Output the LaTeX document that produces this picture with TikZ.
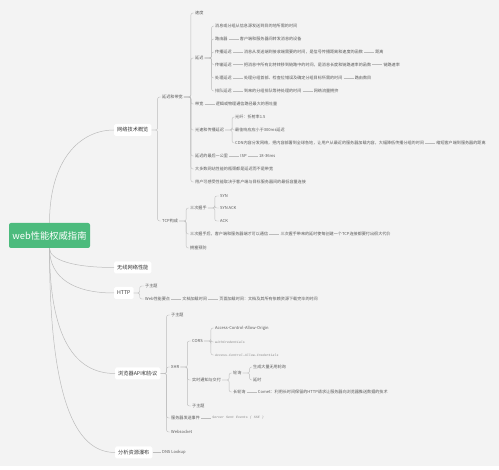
\documentclass[tikz,border=0pt]{standalone}
\usepackage{fontspec}
\setmainfont{Noto Sans CJK SC}
\newfontfamily\codefont{Liberation Mono}
\usetikzlibrary{positioning}
\definecolor{bggray}{RGB}{243,243,243}
\definecolor{rootgreen}{RGB}{76,187,125}
\definecolor{linegray}{RGB}{188,188,188}
\definecolor{txtdark}{RGB}{55,55,55}
\definecolor{txtleaf}{RGB}{90,90,90}
\definecolor{codegray}{RGB}{135,135,135}
\tikzset{
  root/.style  ={fill=rootgreen, text=white, rounded corners=2pt, font=\fontsize{9.3}{11}\selectfont,
                 minimum width=81pt, minimum height=25pt, inner sep=0pt},
  topic/.style ={fill=white, text=txtdark, rounded corners=1.5pt, font=\fontsize{5.2}{6}\selectfont,
                 inner xsep=3pt, inner ysep=0pt, minimum height=12pt, anchor=west},
  leaf/.style  ={text=txtleaf, font=\fontsize{4.1}{5}\selectfont, inner sep=1pt, anchor=west},
  code/.style  ={text=codegray, font=\codefont\itshape\fontsize{3.3}{4}\selectfont, inner sep=1pt, anchor=west},
  br/.style    ={draw=linegray, line width=0.4pt, rounded corners=2pt},
  ln/.style    ={draw=linegray, line width=0.4pt},
  cv/.style    ={draw=linegray, line width=0.5pt},
}

\begin{document}
\begin{tikzpicture}[x=1pt,y=-1pt,node distance=10pt]
\useasboundingbox (0,0) rectangle (499,470);
\fill[bggray] (0,0) rectangle (499,466);
\fill[white] (0,466) rectangle (499,470);

% main topics
\node[root] (root) at (49.5,235.5) {web性能权威指南};
\node[topic] (net) at (114,130) {网络技术概览};
\node[topic] (wireless) at (114,267.5) {无线网络性能};
\node[topic] (http) at (114,293) {HTTP};
\node[topic] (api) at (115,373.5) {浏览器API和协议};
\node[topic] (waterfall) at (115,452.5) {分析资源瀑布};

\draw[cv] (root.north) .. controls +(0,-63) and +(-34,0) .. (net.west);
\draw[cv] (root.south) .. controls +(0,12) and +(-40,0) .. (wireless.west);
\draw[cv] (root.south) .. controls +(0,30) and +(-40,0) .. (http.west);
\draw[cv] (root.south) .. controls +(0,90) and +(-40,0) .. (api.west);
\draw[cv] (root.south) .. controls +(0,150) and +(-40,0) .. (waterfall.west);

% network overview
\node[leaf] (dbw) at (161,97) {延迟和带宽};
\node[leaf] (tcp) at (161,221) {TCP构成};
\foreach \c in {dbw,tcp} \draw[br] (net.east) -- ++(6,0) |- (\c.west);

\node[leaf] (speed) at (194,13) {速度};
\node[leaf] (lat) at (194,58) {延迟};
\node[leaf] (bw) at (194,104) {带宽};
\node[leaf] (light) at (194,130) {光速和传播延迟};
\node[leaf] (mile) at (194,156) {延迟的最后一公里};
\node[leaf] (most) at (194,169) {大多数网站性能的瓶颈都是延迟而不是带宽};
\node[leaf] (user) at (194,182) {用户可感受性能取决于客户端与目标服务器间的最低容量连接};
\foreach \c in {speed,lat,bw,light,mile,most,user} \draw[br] (dbw.east) -- ++(7,0) |- (\c.west);

\node[leaf] (def) at (214,26) {消息或分组从信息源发送到目的地所需的时间};
\node[leaf] (router) at (214,39) {路由器};
\node[leaf,right=of router] (router2) {客户端和服务器间转发消息的设备};
\node[leaf] (prop) at (214,52) {传播延迟};
\node[leaf,right=of prop] (prop2) {消息从发送端到接收端需要的时间，是信号传播距离和速度的函数};
\node[leaf,right=of prop2] (prop3) {距离};
\node[leaf] (trans) at (214,64.5) {传输延迟};
\node[leaf,right=of trans] (trans2) {把消息中所有比特转移到链路中的时间，是消息长度和链路速率的函数};
\node[leaf,right=of trans2] (trans3) {链路速率};
\node[leaf] (proc) at (214,78) {处理延迟};
\node[leaf,right=of proc] (proc2) {处理分组首部、检查位错误及确定分组目标所需的时间};
\node[leaf,right=of proc2] (proc3) {路由数目};
\node[leaf] (queue) at (214,91) {排队延迟};
\node[leaf,right=of queue] (queue2) {到来的分组排队等待处理的时间};
\node[leaf,right=of queue2] (queue3) {网络流量拥挤};
\foreach \c in {def,router,prop,trans,proc,queue} \draw[br] (lat.east) -- ++(7,0) |- (\c.west);
\draw[ln] (router.east) -- (router2.west);
\draw[ln] (prop.east) -- (prop2.west);
\draw[ln] (prop2.east) -- (prop3.west);
\draw[ln] (trans.east) -- (trans2.west);
\draw[ln] (trans2.east) -- (trans3.west);
\draw[ln] (proc.east) -- (proc2.west);
\draw[ln] (proc2.east) -- (proc3.west);
\draw[ln] (queue.east) -- (queue2.west);
\draw[ln] (queue2.east) -- (queue3.west);

\node[leaf,right=of bw] (bw2) {逻辑或物理通信路径最大的吞吐量};
\draw[ln] (bw.east) -- (bw2.west);

\node[leaf] (fiber) at (234,117) {光纤：折射率1.5};
\node[leaf] (best) at (234,130) {最佳响应应小于300ms延迟};
\node[leaf] (cdn) at (234,143) {CDN内容分发网络，把内容部署到全球各地，让用户从最近的服务器加载内容，大幅降低传播分组的时间};
\node[leaf,right=of cdn] (cdn2) {缩短客户端到服务器的距离};
\foreach \c in {fiber,best,cdn} \draw[br] (light.east) -- ++(7,0) |- (\c.west);
\draw[ln] (cdn.east) -- (cdn2.west);

\node[leaf,right=of mile] (isp) {ISP};
\node[leaf,right=of isp] (ms) {18-36ms};
\draw[ln] (mile.east) -- (isp.west);
\draw[ln] (isp.east) -- (ms.west);

% tcp
\node[leaf] (hand) at (189,208) {三次握手};
\node[leaf] (after) at (189,234) {三次握手后，客户端和服务器端才可以通信};
\node[leaf,right=of after] (after2) {三次握手带来的延时使每创建一个TCP连接都要付出很大代价};
\node[leaf] (cong) at (189,248) {拥塞预防};
\foreach \c in {hand,after,cong} \draw[br] (tcp.east) -- ++(7,0) |- (\c.west);
\draw[ln] (after.east) -- (after2.west);

\node[leaf] (syn) at (219,196) {SYN};
\node[leaf] (synack) at (219,208) {SYN ACK};
\node[leaf] (ack) at (219,221) {ACK};
\foreach \c in {syn,synack,ack} \draw[br] (hand.east) -- ++(7,0) |- (\c.west);

% http
\node[leaf] (sub1) at (144,286) {子主题};
\node[leaf] (webkey) at (144,299) {Web性能要点};
\node[leaf,right=of webkey] (doc) {文档加载时间};
\node[leaf,right=of doc] (page) {页面加载时间：文档及其所有依赖资源下载完毕的时间};
\foreach \c in {sub1,webkey} \draw[br] (http.east) -- ++(6,0) |- (\c.west);
\draw[ln] (webkey.east) -- (doc.west);
\draw[ln] (doc.east) -- (page.west);

% browser api
\node[leaf] (sub2) at (170,315) {子主题};
\node[leaf] (xhr) at (170,367) {XHR};
\node[leaf] (sse) at (170,418) {服务器发送事件};
\node[code,right=of sse] (ssecode) {Server Sent Events ( SSE )};
\node[leaf] (ws) at (170,432) {Websocket};
\foreach \c in {sub2,xhr,sse,ws} \draw[br] (api.east) -- ++(6,0) |- (\c.west);
\draw[ln] (sse.east) -- (ssecode.west);

\node[leaf] (cors) at (191,341) {CORS};
\node[leaf] (rt) at (191,380) {实时通知与交付};
\node[leaf] (sub3) at (191,406) {子主题};
\foreach \c in {cors,rt,sub3} \draw[br] (xhr.east) -- ++(7,0) |- (\c.west);

\node[leaf] (acao) at (214,328) {Access-Control-Allow-Origin};
\node[code] (wc) at (214,342) {withCredentials};
\node[code] (acac) at (214,355) {Access-Control-Allow-Credentials};
\foreach \c in {acao,wc,acac} \draw[br] (cors.east) -- ++(7,0) |- (\c.west);

\node[leaf] (poll) at (232,373) {轮询};
\node[leaf] (lpoll) at (232,392) {长轮询};
\node[leaf,right=of lpoll] (comet) {Comet：利用长时间保留的HTTP请求让服务器向浏览器推送数据的技术};
\foreach \c in {poll,lpoll} \draw[br] (rt.east) -- ++(7,0) |- (\c.west);
\draw[ln] (lpoll.east) -- (comet.west);

\node[leaf] (useless) at (252,367) {生成大量无用轮询};
\node[leaf] (delay) at (252,380) {延时};
\foreach \c in {useless,delay} \draw[br] (poll.east) -- ++(7,0) |- (\c.west);

% waterfall
\node[leaf] (dns) at (161,452.5) {DNS Lookup};
\draw[ln] (waterfall.east) -- (dns.west);
\end{tikzpicture}
\end{document}
